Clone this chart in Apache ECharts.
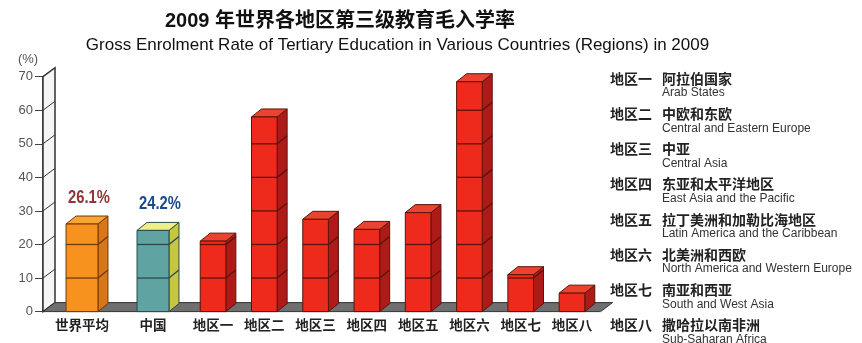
<!DOCTYPE html>
<html><head><meta charset="utf-8">
<script src="https://cdn.jsdelivr.net/npm/echarts@6/dist/echarts.min.js"></script>
<style>html,body{margin:0;padding:0;background:#fff}#c{width:862px;height:343px}</style>
</head><body><div id="c"></div>
<script>
// ---------- data ----------
const leftCategories = ['世界平均', '中国'];
const leftValues = [26.1, 24.2];
const regionCategories = ['地区一', '地区二', '地区三', '地区四', '地区五', '地区六', '地区七', '地区八'];
const regionValues = [21, 58, 27.5, 24.5, 29.5, 68.5, 11, 5.5];
const regionNamesZh = ['阿拉伯国家', '中欧和东欧', '中亚', '东亚和太平洋地区', '拉丁美洲和加勒比海地区', '北美洲和西欧', '南亚和西亚', '撒哈拉以南非洲'];
const regionNamesEn = ['Arab States', 'Central and Eastern Europe', 'Central Asia', 'East Asia and the Pacific', 'Latin America and the Caribbean', 'North America and Western Europe', 'South and West Asia', 'Sub-Saharan Africa'];
const yTicks = [0, 10, 20, 30, 40, 50, 60, 70];
const yUnit = '(%)';
const titleZh = '2009 年世界各地区第三级教育毛入学率';
const titleEn = 'Gross Enrolment Rate of Tertiary Education in Various Countries (Regions) in 2009';

// ---------- layout / style ----------
const G0_LEFT = 46.5, G0_W = 142, G1_LEFT = 187.4, G1_W = 410.2, G_TOP = 76.7, G_H = 234.9;
const AX_OFF = 3.5;
const DX = 10, DY = 8;       // bar depth
const WDX = 12, WDY = 9;     // wall depth
const CJK = '"Noto Sans CJK SC", "Liberation Sans", sans-serif';
const LAT = '"Liberation Sans", Arial, "Noto Sans CJK SC", sans-serif';
const leftPalette = [
  { front: '#F7921E', side: '#D8761B', top: '#F9A434', line: '#6e3a0c', label: '#923438' },
  { front: '#5FA4A3', side: '#C6C643', top: '#EFEE8E', line: '#2a4a4a', label: '#1B4A88' }
];
const redPalette = { front: '#EE2A1C', side: '#AE1A18', top: '#EC4330', line: '#5a140c' };
const yMax = yTicks[yTicks.length - 1];

function bar3d(api, idx, val, ratio, pal, labelText) {
  const base = api.coord([idx, 0]);
  const top = api.coord([idx, val]);
  const bw = api.size([1, 0])[0] * ratio;
  const x0 = base[0] - bw / 2, x1 = base[0] + bw / 2, y0 = base[1], y1 = top[1];
  const lw = 1;
  const children = [
    { type: 'polygon', shape: { points: [[x1, y0], [x1 + DX, y0 - DY], [x1 + DX, y1 - DY], [x1, y1]] },
      style: { fill: pal.side, stroke: pal.line, lineWidth: lw } },
    { type: 'polygon', shape: { points: [[x0, y1], [x0 + DX, y1 - DY], [x1 + DX, y1 - DY], [x1, y1]] },
      style: { fill: pal.top, stroke: pal.line, lineWidth: lw } },
    { type: 'rect', shape: { x: x0, y: y1, width: bw, height: y0 - y1 },
      style: { fill: pal.front, stroke: pal.line, lineWidth: lw } }
  ];
  yTicks.forEach(t => {
    if (t > 0 && t < val - 0.3) {
      const y = api.coord([idx, t])[1];
      children.push({ type: 'line', shape: { x1: x0, y1: y, x2: x1, y2: y }, style: { stroke: pal.line, lineWidth: 1.3 } });
      children.push({ type: 'line', shape: { x1: x1, y1: y, x2: x1 + DX, y2: y - DY }, style: { stroke: pal.line, lineWidth: 1.3 } });
    }
  });
  if (labelText) {
    children.push({ type: 'text', x: base[0] + 7, y: y1 - 26, scaleX: 0.82,
      style: { text: labelText, fill: pal.label, font: 'bold 18px ' + LAT, align: 'center', verticalAlign: 'middle' } });
  }
  return { type: 'group', children };
}

function renderDecor(params, api) {
  const cs = params.coordSys;
  const ax = G0_LEFT - AX_OFF;
  const yb = api.coord([0, 0])[1], yt = api.coord([0, yMax])[1];
  const xr = cs.x + cs.width;
  const children = [
    { type: 'polygon', shape: { points: [[ax, yb], [ax + WDX, yb - WDY], [ax + WDX, yt - WDY], [ax, yt]] },
      style: { fill: '#f5f6f8', stroke: '#333', lineWidth: 1.5 } }
  ];
  yTicks.forEach(t => {
    if (t > 0 && t < yMax) {
      const y = api.coord([0, t])[1];
      children.push({ type: 'line', shape: { x1: ax, y1: y, x2: ax + WDX, y2: y - WDY }, style: { stroke: '#333', lineWidth: 1 } });
    }
  });
  children.push({ type: 'polygon', shape: { points: [[ax, yb], [xr + 3, yb], [xr + 3 + WDX, yb - WDY], [ax + WDX, yb - WDY]] },
    style: { fill: '#6f6f6f', stroke: '#333', lineWidth: 1 } });
  return { type: 'group', children };
}

const graphics = [
  { type: 'text', x: 340, y: 21, style: { text: titleZh, font: 'bold 20px ' + LAT, fill: '#111', align: 'center', verticalAlign: 'middle' } },
  { type: 'text', x: 397.5, y: 45, style: { text: titleEn, font: '17px ' + LAT, fill: '#111', align: 'center', verticalAlign: 'middle' } }
];
regionCategories.forEach((c, i) => {
  const y = 78.5 + i * 35.2;
  graphics.push({ type: 'text', x: 610, y: y, style: { text: c, font: 'bold 14px ' + CJK, fill: '#222', verticalAlign: 'middle' } });
  graphics.push({ type: 'text', x: 662, y: y, style: { text: regionNamesZh[i], font: 'bold 14px ' + CJK, fill: '#222', verticalAlign: 'middle' } });
  graphics.push({ type: 'text', x: 662, y: y + 14.5, style: { text: regionNamesEn[i], font: '12px ' + LAT, fill: '#333', verticalAlign: 'middle' } });
});

const yAxisBase = { type: 'value', min: 0, max: yMax, interval: 10, splitLine: { show: false } };
const option = {
  animation: false,
  backgroundColor: '#fff',
  grid: [
    { left: G0_LEFT, width: G0_W, top: G_TOP, height: G_H },
    { left: G1_LEFT, width: G1_W, top: G_TOP, height: G_H }
  ],
  xAxis: [
    { type: 'category', gridIndex: 0, data: leftCategories, axisLine: { show: false }, axisTick: { show: false },
      axisLabel: { margin: 7, fontSize: 13.5, fontWeight: 'bold', color: '#222', fontFamily: CJK } },
    { type: 'category', gridIndex: 1, data: regionCategories, axisLine: { show: false }, axisTick: { show: false },
      axisLabel: { margin: 7, fontSize: 13.5, fontWeight: 'bold', color: '#222', fontFamily: CJK, interval: 0 } }
  ],
  yAxis: [
    Object.assign({}, yAxisBase, { gridIndex: 0, offset: AX_OFF, name: yUnit, nameLocation: 'end', nameGap: 11,
      nameTextStyle: { color: '#555', fontSize: 13, fontFamily: LAT, padding: [0, 30, 0, 0] },
      axisLine: { show: true, lineStyle: { color: '#333', width: 1.5 } },
      axisTick: { show: true, length: 8, lineStyle: { color: '#444', width: 1 } },
      axisLabel: { color: '#555', fontSize: 13, fontFamily: LAT, margin: 10, formatter: v => String(v) } }),
    Object.assign({}, yAxisBase, { gridIndex: 1, show: false })
  ],
  graphic: graphics,
  series: [
    { type: 'custom', xAxisIndex: 1, yAxisIndex: 1, z: 1, data: [[0, 0]], renderItem: renderDecor, silent: true },
    { type: 'custom', xAxisIndex: 0, yAxisIndex: 0, z: 2, encode: { x: 0, y: 1 },
      data: leftValues.map((v, i) => [i, v]),
      renderItem: (params, api) => bar3d(api, api.value(0), api.value(1), 0.45, leftPalette[params.dataIndex], api.value(1).toFixed(1) + '%') },
    { type: 'custom', xAxisIndex: 1, yAxisIndex: 1, z: 2, encode: { x: 0, y: 1 },
      data: regionValues.map((v, i) => [i, v]),
      renderItem: (params, api) => bar3d(api, api.value(0), api.value(1), 0.5, redPalette, null) }
  ]
};
const chart = echarts.init(document.getElementById('c'), null, { renderer: 'canvas' });
chart.setOption(option);
</script>
</body></html>
